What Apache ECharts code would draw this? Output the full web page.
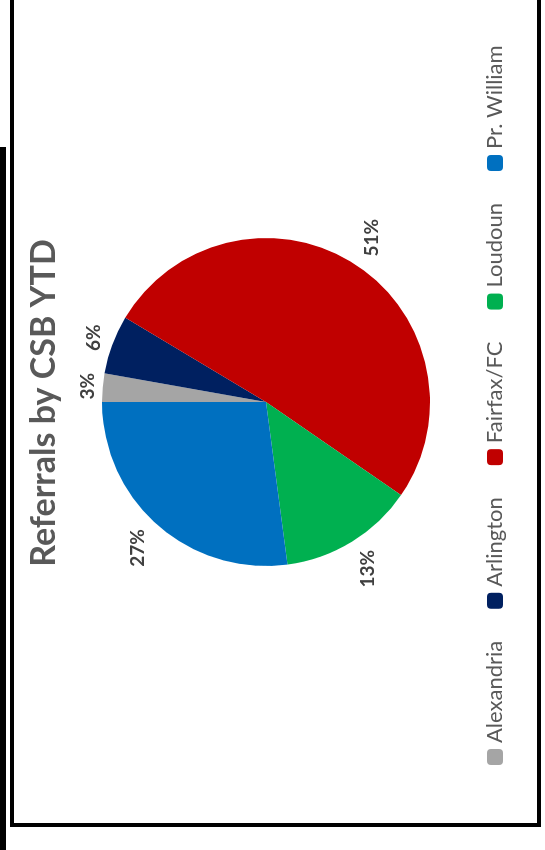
<!DOCTYPE html>
<html><head><meta charset="utf-8">
<script src="https://cdn.jsdelivr.net/npm/echarts@6/dist/echarts.min.js"></script>
<style>
html,body{margin:0;padding:0;background:#fff;overflow:hidden;width:545px;height:850px;}
#chart{position:absolute;left:0;top:0;width:850px;height:545px;transform-origin:0 0;transform:translate(0,850px) rotate(-90deg);}
</style></head><body><div id="chart"></div>
<script>
// Data
var categories = ['Alexandria', 'Arlington', 'Fairfax/FC', 'Loudoun', 'Pr. William'];
var values = [2.8, 5.8, 51.0, 13.3, 27.1];
var colors = ['#A5A5A5', '#002060', '#C00000', '#00B050', '#0070C0'];
var titleText = 'Referrals by CSB YTD';

// Layout (in the unrotated chart frame)
var CX = 448, CY = 266, R = 164, GAP = 4;

var chart = echarts.init(document.getElementById('chart'), null, {renderer: 'canvas'});
var seriesData = categories.map(function (c, i) {
  return {name: c, value: values[i], itemStyle: {color: colors[i]}};
});

chart.setOption({
  animation: false,
  backgroundColor: '#ffffff',
  title: {
    text: titleText,
    left: 447, top: 27, textAlign: 'center', padding: 0,
    textStyle: {fontFamily: 'Lato', fontWeight: 'bold', fontSize: 34, color: '#595959'}
  },
  legend: {
    data: categories,
    orient: 'horizontal',
    left: 85, top: 484, padding: 0,
    itemWidth: 16, itemHeight: 16, itemGap: 32,
    icon: 'roundRect',
    selectedMode: false,
    textStyle: {fontFamily: 'Lato', fontSize: 22, color: '#595959', padding: [0, 0, 0, 1]}
  },
  graphic: [
    {type: 'rect', shape: {x: 25, y: 12, width: 900, height: 527},
     style: {fill: 'none', stroke: '#000', lineWidth: 4}, silent: true},
    {type: 'rect', shape: {x: 0, y: 0, width: 703, height: 6},
     style: {fill: '#000'}, silent: true}
  ],
  series: [{
    type: 'pie',
    center: [CX, CY],
    radius: R,
    startAngle: 90,
    clockwise: true,
    avoidLabelOverlap: false,
    data: seriesData,
    itemStyle: {borderWidth: 0},
    label: {
      show: true,
      position: 'outside',
      fontFamily: 'Lato', fontWeight: 'bold', fontSize: 19, color: '#404040',
      formatter: function (p) { return Math.round(p.percent) + '%'; }
    },
    labelLine: {show: true, length: 0, length2: 0, lineStyle: {width: 0, opacity: 0}},
    labelLayout: function (p) {
      var pts = p.labelLinePoints;
      if (!pts) return {};
      var dx = pts[0][0] - CX, dy = pts[0][1] - CY;
      var d = Math.sqrt(dx * dx + dy * dy) || 1;
      dx /= d; dy /= d;
      var hw = p.labelRect.width / 2, hh = p.labelRect.height / 2;
      var k = R + GAP + hw * Math.abs(dx) * 1.4 + hh * Math.abs(dy);
      return {x: CX + dx * k, y: CY + dy * k, align: 'center', verticalAlign: 'middle'};
    },
    emphasis: {disabled: true}
  }]
});
</script></body></html>
